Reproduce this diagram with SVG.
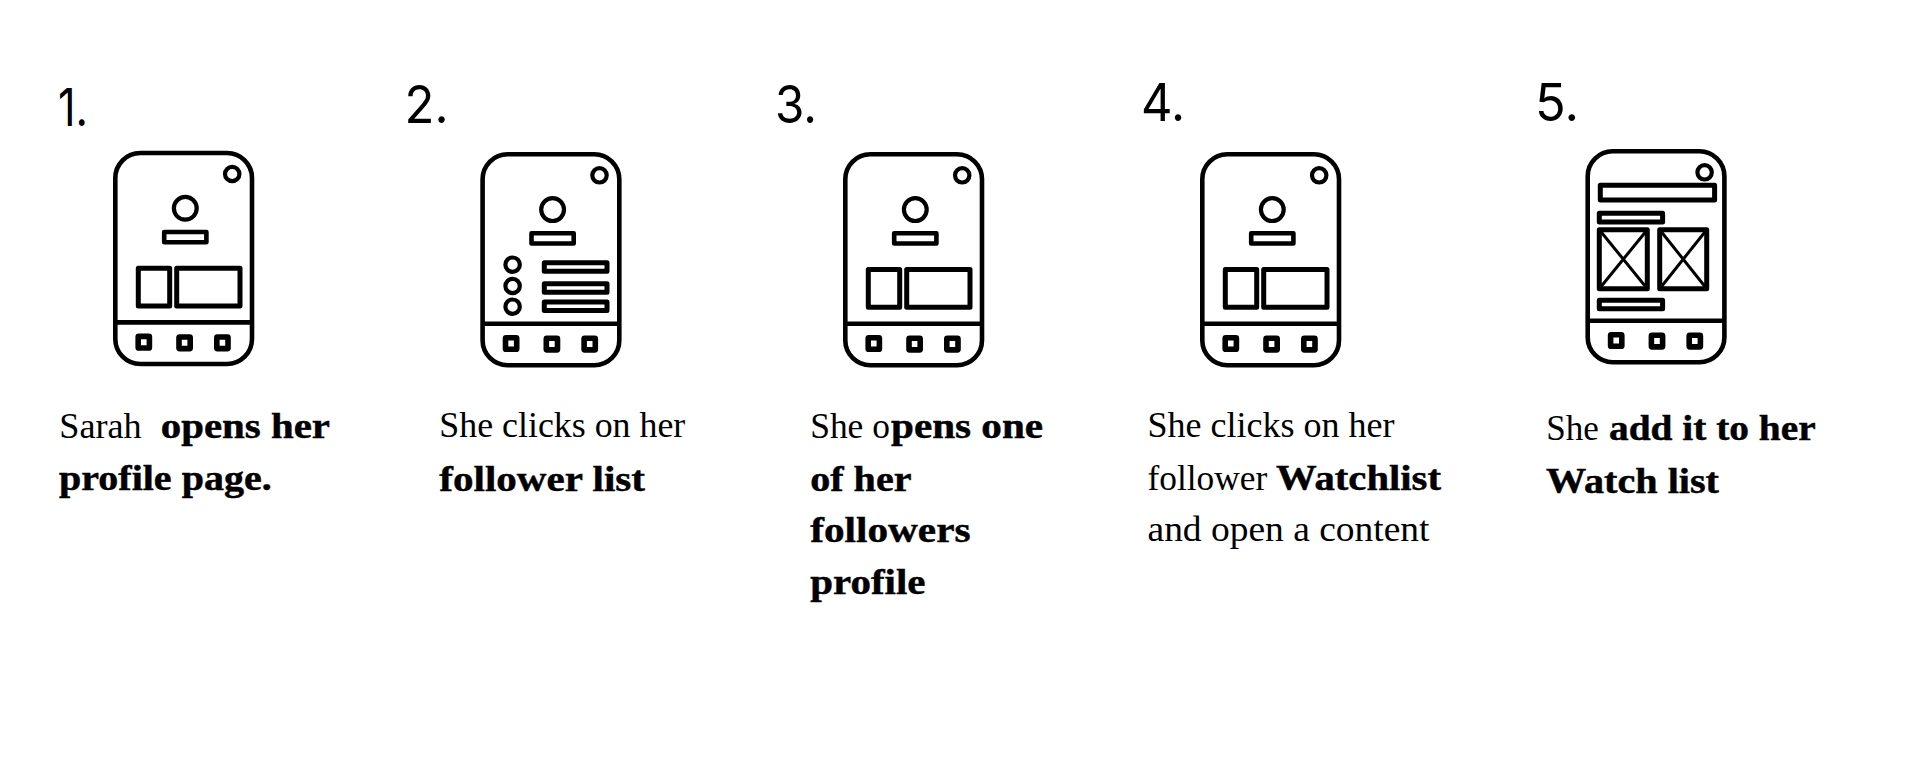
<svg xmlns="http://www.w3.org/2000/svg" width="1920" height="770" viewBox="0 0 1920 770">
<style>
.s{fill:none;stroke:#000;stroke-linejoin:round}
.w4{stroke-width:4.6}
.i{stroke-width:5}
.w35{stroke-width:4.2}
.w5{stroke-width:5.6}
.x{stroke-width:3}
.n{font-family:"Inter","Open Sans",sans-serif;font-weight:400;font-size:52px;fill:#000}
.t{font-family:"Liberation Serif","Times New Roman",serif;font-size:36px;fill:#000}
.b{font-weight:bold;stroke:#000;stroke-width:.45}
</style>
<defs>
<g id="shell">
<rect class="s w4" x="115.3" y="153" width="136.7" height="211" rx="25" ry="25"/>
<line class="s w4" x1="115.3" y1="322.4" x2="252" y2="322.4"/>
<circle class="s w35" cx="232.2" cy="174" r="7.2"/>
<rect class="s w5" x="138.2" y="336.4" width="11.2" height="11.6" rx=".6"/>
<rect class="s w5" x="179" y="337" width="11.2" height="11.6" rx=".6"/>
<rect class="s w5" x="216.8" y="337" width="11.2" height="11.6" rx=".6"/>
</g>
<g id="head">
<circle class="s w35" cx="185.3" cy="208.3" r="11.4"/>
<rect class="s w4" x="164.2" y="232" width="42.2" height="10.2"/>
</g>
<g id="cards">
<rect class="s i" x="138.3" y="268.3" width="31.4" height="37.7"/>
<rect class="s i" x="176.7" y="268.3" width="63.3" height="37.7"/>
</g>
</defs>
<rect width="1920" height="770" fill="#fff"/>
<g id="connectors"></g>

<g id="step-1">
<text class="n" x="58" y="126" textLength="30" lengthAdjust="spacingAndGlyphs">1.</text>
<use href="#shell"/><use href="#head"/><use href="#cards"/>
<text class="t" x="59.3" y="437.7" textLength="82.4" lengthAdjust="spacingAndGlyphs">Sarah</text>
<text class="t b" x="160.7" y="437.7" textLength="169.3" lengthAdjust="spacingAndGlyphs">opens her</text>
<text class="t b" x="59" y="490.3" textLength="212.7" lengthAdjust="spacingAndGlyphs">profile page.</text>
</g>

<g id="step-2">
<text class="n" x="404.5" y="122.7" textLength="44" lengthAdjust="spacingAndGlyphs">2.</text>
<g transform="translate(367.3 1.3)">
<use href="#shell"/><use href="#head"/>
<circle class="s w35" cx="145.3" cy="263.4" r="7.2"/>
<circle class="s w35" cx="145.3" cy="284.7" r="7.2"/>
<circle class="s w35" cx="145.3" cy="305.4" r="7.2"/>
<rect class="s i" x="177" y="261.4" width="62.7" height="8.6"/>
<rect class="s i" x="177" y="282.4" width="62.7" height="8.6"/>
<rect class="s i" x="177" y="300.7" width="62.7" height="8.6"/>
</g>
<text class="t" x="439.3" y="437.2" textLength="246" lengthAdjust="spacingAndGlyphs">She clicks on her</text>
<text class="t b" x="439.3" y="490.5" textLength="205.7" lengthAdjust="spacingAndGlyphs">follower list</text>
</g>

<g id="step-3">
<text class="n" x="775" y="122.7" textLength="42" lengthAdjust="spacingAndGlyphs">3.</text>
<g transform="translate(730 1.3)"><use href="#shell"/><use href="#head"/><use href="#cards"/></g>
<text class="t" x="810.2" y="438.2" textLength="79.7" lengthAdjust="spacingAndGlyphs">She o</text>
<text class="t b" x="891" y="438.2" textLength="152.1" lengthAdjust="spacingAndGlyphs">pens one</text>
<text class="t b" x="810.2" y="491" textLength="101.3" lengthAdjust="spacingAndGlyphs">of her</text>
<text class="t b" x="810.2" y="542" textLength="160.3" lengthAdjust="spacingAndGlyphs">followers</text>
<text class="t b" x="810.2" y="594" textLength="115.3" lengthAdjust="spacingAndGlyphs">profile</text>
</g>

<g id="step-4">
<text class="n" x="1141" y="120.7" textLength="44" lengthAdjust="spacingAndGlyphs">4.</text>
<g transform="translate(1087 1.3)"><use href="#shell"/><use href="#head"/><use href="#cards"/></g>
<text class="t" x="1147.5" y="437.2" textLength="247" lengthAdjust="spacingAndGlyphs">She clicks on her</text>
<text class="t" x="1147.5" y="490" textLength="119.8" lengthAdjust="spacingAndGlyphs">follower</text>
<text class="t b" x="1276" y="490" textLength="165" lengthAdjust="spacingAndGlyphs">Watchlist</text>
<text class="t" x="1147.5" y="540.7" textLength="282" lengthAdjust="spacingAndGlyphs">and open a content</text>
</g>

<g id="step-5">
<text class="n" x="1535" y="121" textLength="44" lengthAdjust="spacingAndGlyphs">5.</text>
<g transform="translate(1472.4 -1.7)">
<use href="#shell"/>
<rect class="s i" x="127.9" y="187" width="114.3" height="14.7"/>
<rect class="s i" x="126.9" y="215" width="63.3" height="8.7"/>
<rect class="s i" x="126.9" y="231.4" width="48" height="59"/>
<path class="s x" d="M126.9 231.4L174.9 290.4M174.9 231.4L126.9 290.4"/>
<rect class="s i" x="187.3" y="231.4" width="47" height="59"/>
<path class="s x" d="M187.3 231.4L234.3 290.4M234.3 231.4L187.3 290.4"/>
<rect class="s i" x="126.9" y="302" width="63.3" height="8.4"/>
</g>
<text class="t" x="1546.2" y="440.3" textLength="52.6" lengthAdjust="spacingAndGlyphs">She</text>
<text class="t b" x="1609" y="440.3" textLength="206.7" lengthAdjust="spacingAndGlyphs">add it to her</text>
<text class="t b" x="1546" y="493.3" textLength="173" lengthAdjust="spacingAndGlyphs">Watch list</text>
</g>
</svg>
